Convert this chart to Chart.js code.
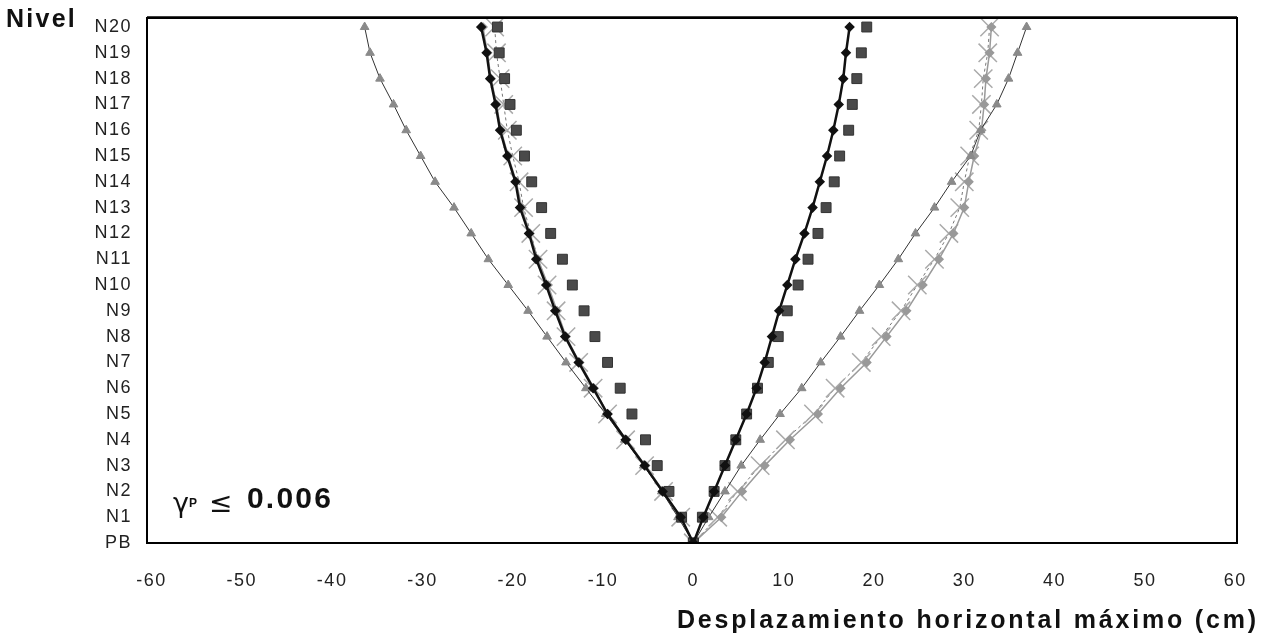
<!DOCTYPE html>
<html><head><meta charset="utf-8">
<script src="https://cdn.jsdelivr.net/npm/chart.js@4.4.1/dist/chart.umd.min.js"></script>
<style>html,body{margin:0;padding:0;background:#fff;}#wrap{position:relative;width:1264px;height:640px;}</style>
</head><body><div id="wrap"><canvas id="c" width="1264" height="640"></canvas></div>
<script>
// Levels (y categories, bottom to top)
const levels = ['PB','N1','N2','N3','N4','N5','N6','N7','N8','N9','N10','N11','N12','N13','N14','N15','N16','N17','N18','N19','N20'];
// X tick labels
const xTicks = [-60,-50,-40,-30,-20,-10,0,10,20,30,40,50,60];

// Series values (cm), ordered PB..N20
const blackRight = [0,1.1,2.3,3.5,4.7,5.9,7.0,7.9,8.7,9.5,10.4,11.3,12.3,13.2,14.0,14.8,15.5,16.1,16.6,16.9,17.3];
const blackLeft  = [0,-1.4,-3.4,-5.4,-7.5,-9.5,-11.1,-12.7,-14.2,-15.3,-16.3,-17.4,-18.2,-19.2,-19.7,-20.6,-21.4,-21.9,-22.5,-22.9,-23.5];
const squareRight = [0,1.0,2.3,3.5,4.7,5.9,7.1,8.3,9.4,10.4,11.6,12.7,13.8,14.7,15.6,16.2,17.2,17.6,18.1,18.6,19.2];
const squareLeft  = [0,-1.3,-2.7,-4.0,-5.3,-6.8,-8.1,-9.5,-10.9,-12.1,-13.4,-14.5,-15.8,-16.8,-17.9,-18.7,-19.6,-20.3,-20.9,-21.5,-21.7];
const triRight = [0,1.7,3.5,5.3,7.4,9.6,12.0,14.1,16.3,18.4,20.6,22.7,24.6,26.7,28.6,30.7,31.8,33.6,34.9,35.9,36.9];
const triLeft  = [0,-1.7,-3.5,-5.5,-7.6,-9.7,-11.9,-14.1,-16.2,-18.3,-20.5,-22.7,-24.6,-26.5,-28.6,-30.2,-31.8,-33.2,-34.7,-35.8,-36.4];
const crossRight = [0,2.7,4.9,7.4,10.2,13.3,15.7,18.6,20.8,23.0,24.8,26.7,28.3,29.5,30.0,30.6,31.6,31.9,32.1,32.6,32.8];
const crossLeft  = [0,-1.4,-3.3,-5.4,-7.5,-9.5,-11.1,-12.7,-14.1,-15.2,-16.2,-17.2,-18.0,-18.8,-19.3,-20.0,-20.6,-21.0,-21.4,-21.8,-22.0];
const greyRight = [0,3.1,5.4,7.9,10.7,13.8,16.3,19.2,21.4,23.6,25.4,27.2,28.8,30.0,30.5,31.1,31.9,32.2,32.4,32.8,33.0];
const greyLeft  = [0,-1.4,-3.3,-5.3,-7.4,-9.5,-11.0,-12.6,-14.1,-15.1,-16.1,-17.2,-18.1,-19.0,-19.6,-20.5,-21.3,-21.8,-22.4,-22.8,-23.3];

const FONT = '"Liberation Sans", Arial, Helvetica, sans-serif';
const pts = arr => arr.map((v,i)=>({x:v,y:i}));

function fitText(ctx, txt, font, x, y, width, align){
  ctx.font = font;
  ctx.letterSpacing = '0px';
  const w0 = ctx.measureText(txt).width;
  const ls = Math.max(0,(width - w0)/Math.max(1,txt.length));
  ctx.letterSpacing = ls.toFixed(2)+'px';
  ctx.textAlign = 'left';
  ctx.textBaseline = 'middle';
  const sx = align === 'right' ? x - width : x;
  ctx.fillText(txt, sx, y);
}

const decor = {
  id:'decor',
  beforeDraw(chart){ chart.ctx.letterSpacing = '1.5px'; },
  afterDraw(chart){
    const {ctx, chartArea:a} = chart;
    ctx.save();
    ctx.letterSpacing = '0px';
    ctx.strokeStyle = '#000';
    ctx.lineWidth = 2;
    ctx.strokeRect(a.left, a.top, a.right-a.left, a.bottom-a.top);
    ctx.lineWidth = 1.5;
    ctx.beginPath(); ctx.moveTo(a.left, a.top-1); ctx.lineTo(a.right, a.top-1); ctx.stroke();
    ctx.fillStyle = '#111';
    fitText(ctx, 'Nivel', 'bold 25px '+FONT, 6, 20, 71, 'left');
    fitText(ctx, 'Desplazamiento horizontal máximo (cm)', 'bold 25px '+FONT, 1259, 621, 582, 'right');
    // annotation
    ctx.letterSpacing = '0px';
    ctx.textBaseline = 'alphabetic';
    ctx.textAlign = 'left';
    ctx.font = '27px "DejaVu Sans", '+FONT;
    ctx.fillText('γ', 173, 512);
    ctx.font = 'bold 12px '+FONT;
    ctx.fillText('P', 189, 507);
    ctx.font = '28px "DejaVu Sans", '+FONT;
    ctx.fillText('≤', 209, 512);
    fitText(ctx, '0.006', 'bold 30px '+FONT, 247, 500, 86, 'left');
    ctx.restore();
  }
};

const common = {showLine:true, tension:0};
const datasets = [];
[blackRight, blackLeft].forEach(d=>datasets.push({...common, data:pts(d), borderColor:'#111', borderWidth:2.5, pointStyle:'rectRot', pointRadius:3.5, pointBackgroundColor:'#111', pointBorderColor:'#111'}));
[squareRight, squareLeft].forEach(d=>datasets.push({data:pts(d), showLine:false, pointStyle:'rect', pointRadius:7, pointBackgroundColor:'#4a4a4a', pointBorderColor:'#333', pointBorderWidth:1}));
[triRight, triLeft].forEach(d=>datasets.push({...common, data:pts(d), borderColor:'#333', borderWidth:1, pointStyle:'triangle', pointRadius:5, pointBackgroundColor:'#8a8a8a', pointBorderColor:'#8a8a8a'}));
[greyRight, greyLeft].forEach(d=>datasets.push({...common, data:pts(d), borderColor:'#9a9a9a', borderWidth:1.5, pointStyle:'rectRot', pointRadius:4, pointBackgroundColor:'#999', pointBorderColor:'#999'}));
[crossRight, crossLeft].forEach(d=>datasets.push({...common, data:pts(d), borderColor:'#777', borderWidth:1, borderDash:[3,3], pointStyle:'crossRot', pointRadius:13, pointBorderColor:'#aaa', pointBorderWidth:1.5, pointBackgroundColor:'#aaa'}));

new Chart(document.getElementById('c'), {
  type:'scatter',
  data:{datasets},
  plugins:[decor],
  options:{
    responsive:false, animation:false,
    layout:{padding:{top:18, right:27, bottom:0, left:0}},
    plugins:{legend:{display:false}, tooltip:{enabled:false}},
    scales:{
      x:{type:'linear', min:-60.5, max:60.2,
        afterBuildTicks:s=>{s.ticks = xTicks.map(v=>({value:v}));},
        afterFit:s=>{s.height = 97; s.paddingLeft = 0; s.paddingRight = 0;},
        grid:{display:false, drawTicks:false}, border:{display:false},
        ticks:{padding:27, color:'#222', font:{family:FONT, size:18}, callback:v=>String(v), maxRotation:0, autoSkip:false}
      },
      y:{type:'linear', min:0, max:20.35,
        afterBuildTicks:s=>{s.ticks = levels.map((_,i)=>({value:i}));},
        afterFit:s=>{s.width = 147; s.paddingTop = 0; s.paddingBottom = 0;},
        grid:{display:false, drawTicks:false}, border:{display:false},
        ticks:{padding:15, color:'#222', font:{family:FONT, size:18}, callback:v=>levels[v], autoSkip:false}
      }
    }
  }
});
</script></body></html>
